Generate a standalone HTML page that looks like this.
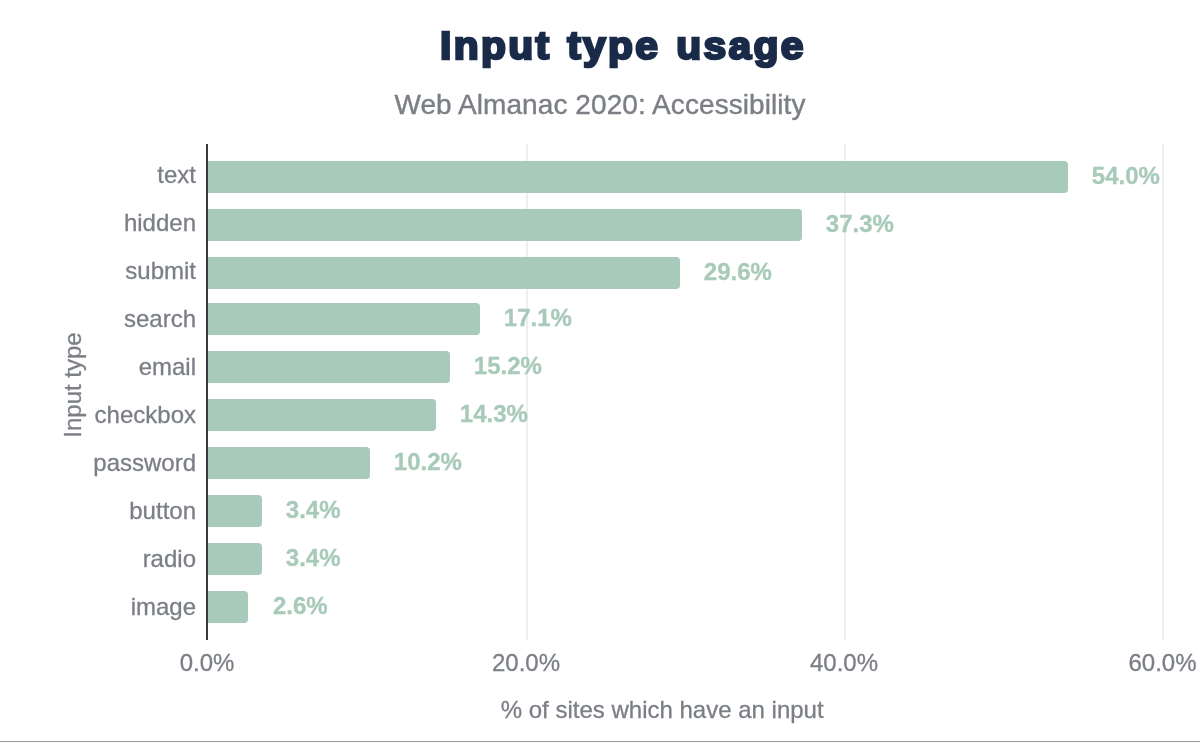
<!DOCTYPE html>
<html><head><meta charset="utf-8"><title>Input type usage</title>
<style>
html,body{margin:0;padding:0;background:#fff;}
body{width:1200px;height:742px;position:relative;overflow:hidden;font-family:"Liberation Sans",sans-serif;}
.abs{position:absolute;white-space:nowrap;line-height:1;}
.title{left:440px;top:27px;font-size:38.5px;font-weight:bold;color:#1a2b49;-webkit-text-stroke:2.5px #1a2b49;letter-spacing:2.2px;word-spacing:2px;}
.title span{display:inline-block;transform:scaleX(1.06);transform-origin:left center;}
.sub{-webkit-text-stroke:0.4px #7b7f85;left:0;width:1200px;top:91px;letter-spacing:0.075px;text-align:center;font-size:28px;color:#7b7f85;}
.grid{width:2px;top:144px;height:496px;background:#eeeff0;}
.axis{left:206px;width:2px;top:144px;height:496px;background:#383a41;}
.bar{height:32px;background:#a8caba;border-radius:0 4px 4px 0;}
.cat{-webkit-text-stroke:0.3px #7b7f85;font-size:24px;color:#7b7f85;text-align:right;width:196px;left:0;}
.val{-webkit-text-stroke:0.3px #a8caba;font-size:24px;font-weight:bold;color:#a8caba;}
.tick{-webkit-text-stroke:0.3px #7b7f85;font-size:24px;color:#7b7f85;width:120px;text-align:center;}
.xt{-webkit-text-stroke:0.3px #7b7f85;left:0;width:1324.4px;text-align:center;top:698px;font-size:24px;color:#7b7f85;}
.yt{-webkit-text-stroke:0.3px #7b7f85;font-size:24px;color:#7b7f85;left:73.2px;top:385px;transform:translate(-50%,-50%) rotate(-90deg);}
.bottom{left:0;top:741px;width:1200px;height:1px;background:#98999b;}
</style></head><body>
<div class="abs title"><span>Input type usage</span></div>
<div class="abs sub">Web Almanac 2020: Accessibility</div>
<div class="abs grid" style="left:526px"></div>
<div class="abs grid" style="left:844px"></div>
<div class="abs grid" style="left:1162px"></div>
<div class="abs bar" style="left:208px;top:161px;width:860px"></div>
<div class="abs cat" style="top:163px">text</div>
<div class="abs val" style="left:1091.8px;top:164px">54.0%</div>
<div class="abs bar" style="left:208px;top:209px;width:594px"></div>
<div class="abs cat" style="top:211px">hidden</div>
<div class="abs val" style="left:825.8px;top:212px">37.3%</div>
<div class="abs bar" style="left:208px;top:257px;width:472px"></div>
<div class="abs cat" style="top:259px">submit</div>
<div class="abs val" style="left:703.8px;top:260px">29.6%</div>
<div class="abs bar" style="left:208px;top:303px;width:272px"></div>
<div class="abs cat" style="top:307px">search</div>
<div class="abs val" style="left:503.8px;top:306px">17.1%</div>
<div class="abs bar" style="left:208px;top:351px;width:242px"></div>
<div class="abs cat" style="top:355px">email</div>
<div class="abs val" style="left:473.8px;top:354px">15.2%</div>
<div class="abs bar" style="left:208px;top:399px;width:228px"></div>
<div class="abs cat" style="top:403px">checkbox</div>
<div class="abs val" style="left:459.8px;top:402px">14.3%</div>
<div class="abs bar" style="left:208px;top:447px;width:162px"></div>
<div class="abs cat" style="top:451px">password</div>
<div class="abs val" style="left:393.8px;top:450px">10.2%</div>
<div class="abs bar" style="left:208px;top:495px;width:54px"></div>
<div class="abs cat" style="top:499px">button</div>
<div class="abs val" style="left:285.8px;top:498px">3.4%</div>
<div class="abs bar" style="left:208px;top:543px;width:54px"></div>
<div class="abs cat" style="top:547px">radio</div>
<div class="abs val" style="left:285.8px;top:546px">3.4%</div>
<div class="abs bar" style="left:208px;top:591px;width:40px"></div>
<div class="abs cat" style="top:595px">image</div>
<div class="abs val" style="left:273.0px;top:594px">2.6%</div>
<div class="abs axis"></div>
<div class="abs tick" style="left:147px;top:651px">0.0%</div>
<div class="abs tick" style="left:466px;top:651px">20.0%</div>
<div class="abs tick" style="left:784px;top:651px">40.0%</div>
<div class="abs tick" style="left:1102.5px;top:651px">60.0%</div>
<div class="abs xt">% of sites which have an input</div>
<div class="abs yt">Input type</div>
<div class="abs bottom"></div>
</body></html>
